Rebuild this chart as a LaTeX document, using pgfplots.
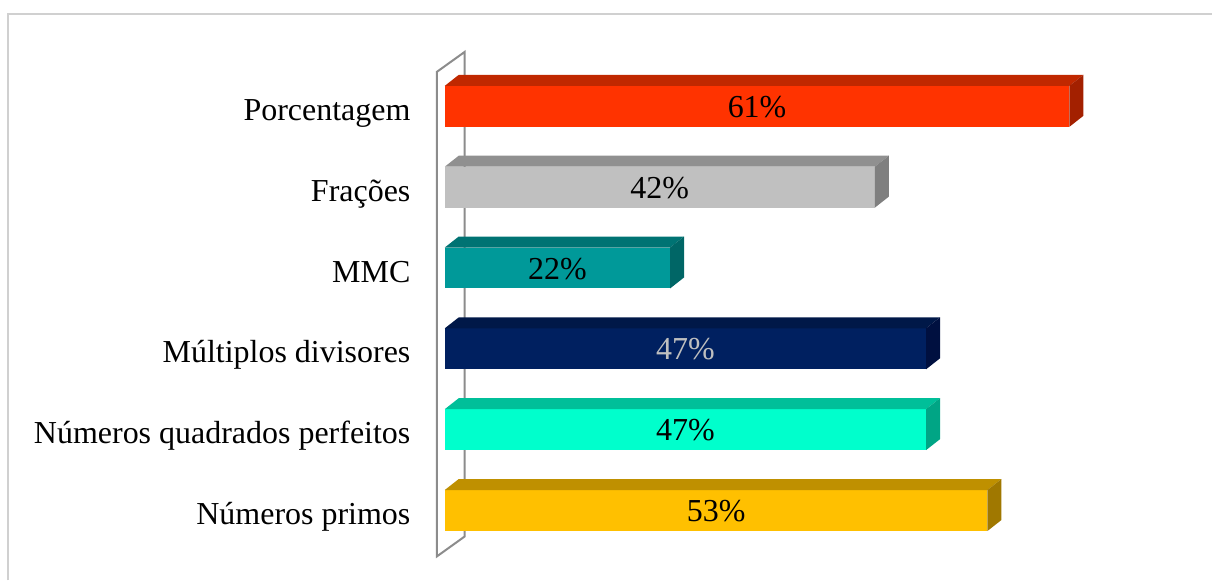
\documentclass[border=0pt]{standalone}
\usepackage{fontspec}
\setmainfont{Liberation Serif}
\usepackage{pgfplots}
\pgfplotsset{compat=1.18}
\definecolor{pF}{HTML}{FF3300}\definecolor{pT}{HTML}{C02800}\definecolor{pS}{HTML}{A32000}
\definecolor{fF}{HTML}{C0C0C0}\definecolor{fT}{HTML}{909090}\definecolor{fS}{HTML}{7F7F7F}
\definecolor{mF}{HTML}{009999}\definecolor{mT}{HTML}{007373}\definecolor{mS}{HTML}{006666}
\definecolor{dF}{HTML}{002060}\definecolor{dT}{HTML}{001848}\definecolor{dS}{HTML}{001040}
\definecolor{qF}{HTML}{00FFCC}\definecolor{qT}{HTML}{00BF99}\definecolor{qS}{HTML}{00A585}
\definecolor{rF}{HTML}{FFC000}\definecolor{rT}{HTML}{BF9000}\definecolor{rS}{HTML}{A07800}
\definecolor{wall}{HTML}{8C8C8C}
\definecolor{frame}{HTML}{D0D0D0}
\begin{document}
\begin{tikzpicture}
\begin{axis}[
  scale only axis, width=606.5pt, height=290.5pt,
  xmin=-43.415, xmax=74.93, ymin=-0.865, ymax=6.316,
  axis line style={draw=none},
  xtick=\empty, ytick={0,1,2,3,4,5},
  yticklabels={Números primos, Números quadrados perfeitos, Múltiplos divisores, MMC, Frações, Porcentagem},
  major tick length=0pt,
  yticklabel style={anchor=base east, inner sep=0pt, xshift=205.5pt, yshift=-7pt, font=\fontsize{16}{19}\selectfont},
  clip=false,
]
% frame
\draw[frame, line width=1pt] (axis cs:-42.634,-0.865) -- (axis cs:-42.634,6.143) -- (axis cs:74.93,6.143);
% back wall
\draw[wall, line width=1pt, fill=white] (axis cs:-0.78,5.426) -- (axis cs:1.951,5.674) -- (axis cs:1.951,-0.321) -- (axis cs:-0.78,-0.569) -- cycle;

% Números primos 53
\addplot[xbar, bar width=0.5068, bar shift=0pt, fill=rF, draw=none] coordinates {(53,0)};
\addplot[fill=rT, draw=none] coordinates {(0,0.2534) (53,0.2534) (54.366,0.3894) (1.366,0.3894)} -- cycle;
\addplot[fill=rS, draw=none] coordinates {(53,-0.2534) (54.366,-0.1174) (54.366,0.3894) (53,0.2534)} -- cycle;
% Números quadrados perfeitos 47
\addplot[xbar, bar width=0.5068, bar shift=0pt, fill=qF, draw=none] coordinates {(47,1)};
\addplot[fill=qT, draw=none] coordinates {(0,1.2534) (47,1.2534) (48.366,1.3894) (1.366,1.3894)} -- cycle;
\addplot[fill=qS, draw=none] coordinates {(47,0.7466) (48.366,0.8826) (48.366,1.3894) (47,1.2534)} -- cycle;
% Múltiplos divisores 47
\addplot[xbar, bar width=0.5068, bar shift=0pt, fill=dF, draw=none] coordinates {(47,2)};
\addplot[fill=dT, draw=none] coordinates {(0,2.2534) (47,2.2534) (48.366,2.3894) (1.366,2.3894)} -- cycle;
\addplot[fill=dS, draw=none] coordinates {(47,1.7466) (48.366,1.8826) (48.366,2.3894) (47,2.2534)} -- cycle;
% MMC 22
\addplot[xbar, bar width=0.5068, bar shift=0pt, fill=mF, draw=none] coordinates {(22,3)};
\addplot[fill=mT, draw=none] coordinates {(0,3.2534) (22,3.2534) (23.366,3.3894) (1.366,3.3894)} -- cycle;
\addplot[fill=mS, draw=none] coordinates {(22,2.7466) (23.366,2.8826) (23.366,3.3894) (22,3.2534)} -- cycle;
% Frações 42
\addplot[xbar, bar width=0.5068, bar shift=0pt, fill=fF, draw=none] coordinates {(42,4)};
\addplot[fill=fT, draw=none] coordinates {(0,4.2534) (42,4.2534) (43.366,4.3894) (1.366,4.3894)} -- cycle;
\addplot[fill=fS, draw=none] coordinates {(42,3.7466) (43.366,3.8826) (43.366,4.3894) (42,4.2534)} -- cycle;
% Porcentagem 61
\addplot[xbar, bar width=0.5068, bar shift=0pt, fill=pF, draw=none] coordinates {(61,5)};
\addplot[fill=pT, draw=none] coordinates {(0,5.2534) (61,5.2534) (62.366,5.3894) (1.366,5.3894)} -- cycle;
\addplot[fill=pS, draw=none] coordinates {(61,4.7466) (62.366,4.8826) (62.366,5.3894) (61,5.2534)} -- cycle;

% value labels
\addplot[draw=none, mark=none, nodes near coords, point meta=explicit symbolic,
  nodes near coords align=center,
  every node near coord/.append style={anchor=base, yshift=-5.5pt, text=black, font=\fontsize{16}{19}\selectfont}]
  coordinates {(26.5,0) [53\%] (23.5,1) [47\%] (11,3) [22\%] (21,4) [42\%] (30.5,5) [61\%]};
\addplot[draw=none, mark=none, nodes near coords, point meta=explicit symbolic,
  nodes near coords align=center,
  every node near coord/.append style={anchor=base, yshift=-5.5pt, text={rgb,255:red,191;green,191;blue,191}, font=\fontsize{16}{19}\selectfont}]
  coordinates {(23.5,2) [47\%]};
\end{axis}
\end{tikzpicture}
\end{document}
